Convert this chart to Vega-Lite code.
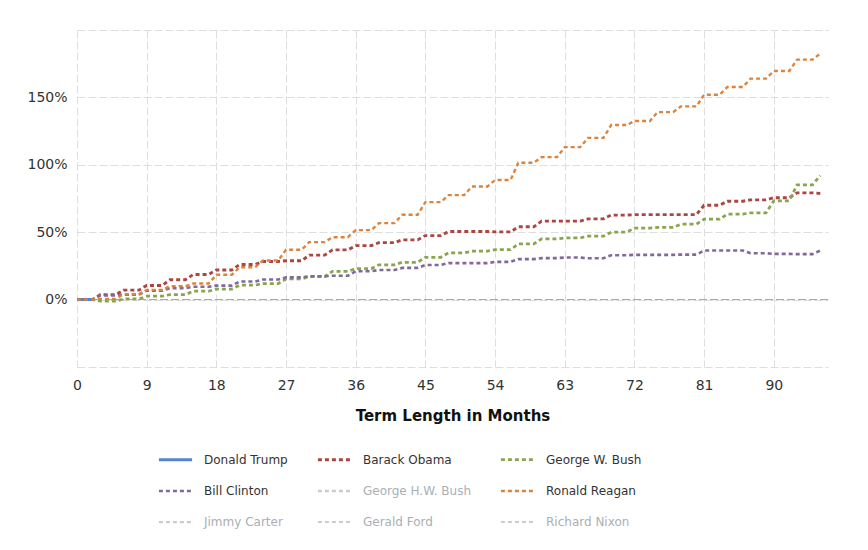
{
  "$schema": "https://vega.github.io/schema/vega-lite/v6.json",
  "width": 751,
  "height": 337,
  "autosize": "none",
  "padding": {"left": 77, "top": 30, "right": 40, "bottom": 183},
  "config": {
    "view": {"stroke": null},
    "font": "DejaVu Sans",
    "axis": {
      "grid": true,
      "gridDash": [8, 3],
      "gridColor": "#dedede",
      "gridWidth": 1,
      "domain": false,
      "ticks": false,
      "labelFontSize": 14,
      "labelColor": "#333333",
      "labelFont": "DejaVu Sans"
    },
    "legend": {
      "title": null,
      "orient": "none",
      "legendX": 80,
      "legendY": 411,
      "direction": "horizontal",
      "columns": 3,
      "symbolType": "stroke",
      "symbolSize": 1100,
      "labelFontSize": 12,
      "labelFont": "DejaVu Sans",
      "labelColor": "#333333",
      "labelOffset": 10,
      "columnPadding": 24,
      "rowPadding": 7
    }
  },
  "datasets": {
    "zero": [{"y": 0}],
    "series": [
      {"n":"Donald Trump","m":0,"v":0},{"n":"Donald Trump","m":1,"v":0},{"n":"Donald Trump","m":2,"v":0},

      {"n":"Barack Obama","m":0,"v":0},{"n":"Barack Obama","m":1,"v":0},{"n":"Barack Obama","m":2,"v":0},
      {"n":"Barack Obama","m":3,"v":3.7},{"n":"Barack Obama","m":4,"v":3.7},{"n":"Barack Obama","m":5,"v":3.7},
      {"n":"Barack Obama","m":6,"v":7.0},{"n":"Barack Obama","m":7,"v":7.0},{"n":"Barack Obama","m":8,"v":7.0},
      {"n":"Barack Obama","m":9,"v":10.5},{"n":"Barack Obama","m":10,"v":10.5},{"n":"Barack Obama","m":11,"v":10.5},
      {"n":"Barack Obama","m":12,"v":14.7},{"n":"Barack Obama","m":13,"v":14.7},{"n":"Barack Obama","m":14,"v":14.7},
      {"n":"Barack Obama","m":15,"v":18.6},{"n":"Barack Obama","m":16,"v":18.6},{"n":"Barack Obama","m":17,"v":18.6},
      {"n":"Barack Obama","m":18,"v":22.0},{"n":"Barack Obama","m":19,"v":22.0},{"n":"Barack Obama","m":20,"v":22.0},
      {"n":"Barack Obama","m":21,"v":26.0},{"n":"Barack Obama","m":22,"v":26.0},{"n":"Barack Obama","m":23,"v":26.0},
      {"n":"Barack Obama","m":24,"v":28.3},{"n":"Barack Obama","m":25,"v":28.3},{"n":"Barack Obama","m":26,"v":28.3},
      {"n":"Barack Obama","m":27,"v":28.8},{"n":"Barack Obama","m":28,"v":28.8},{"n":"Barack Obama","m":29,"v":28.8},
      {"n":"Barack Obama","m":30,"v":33.0},{"n":"Barack Obama","m":31,"v":33.0},{"n":"Barack Obama","m":32,"v":33.0},
      {"n":"Barack Obama","m":33,"v":36.9},{"n":"Barack Obama","m":34,"v":36.9},{"n":"Barack Obama","m":35,"v":36.9},
      {"n":"Barack Obama","m":36,"v":40.0},{"n":"Barack Obama","m":37,"v":40.0},{"n":"Barack Obama","m":38,"v":40.0},
      {"n":"Barack Obama","m":39,"v":42.3},{"n":"Barack Obama","m":40,"v":42.3},{"n":"Barack Obama","m":41,"v":42.3},
      {"n":"Barack Obama","m":42,"v":44.3},{"n":"Barack Obama","m":43,"v":44.3},{"n":"Barack Obama","m":44,"v":44.3},
      {"n":"Barack Obama","m":45,"v":47.5},{"n":"Barack Obama","m":46,"v":47.5},{"n":"Barack Obama","m":47,"v":47.5},
      {"n":"Barack Obama","m":48,"v":50.5},{"n":"Barack Obama","m":49,"v":50.5},{"n":"Barack Obama","m":50,"v":50.5},
      {"n":"Barack Obama","m":51,"v":50.5},{"n":"Barack Obama","m":52,"v":50.5},{"n":"Barack Obama","m":53,"v":50.5},
      {"n":"Barack Obama","m":54,"v":50.2},{"n":"Barack Obama","m":55,"v":50.2},{"n":"Barack Obama","m":56,"v":50.2},
      {"n":"Barack Obama","m":57,"v":54.0},{"n":"Barack Obama","m":58,"v":54.0},{"n":"Barack Obama","m":59,"v":54.0},
      {"n":"Barack Obama","m":60,"v":58.2},{"n":"Barack Obama","m":61,"v":58.2},{"n":"Barack Obama","m":62,"v":58.2},
      {"n":"Barack Obama","m":63,"v":58.2},{"n":"Barack Obama","m":64,"v":58.2},{"n":"Barack Obama","m":65,"v":58.2},
      {"n":"Barack Obama","m":66,"v":59.9},{"n":"Barack Obama","m":67,"v":59.9},{"n":"Barack Obama","m":68,"v":59.9},
      {"n":"Barack Obama","m":69,"v":62.7},{"n":"Barack Obama","m":70,"v":62.7},{"n":"Barack Obama","m":71,"v":62.7},
      {"n":"Barack Obama","m":72,"v":63.0},{"n":"Barack Obama","m":73,"v":63.0},{"n":"Barack Obama","m":74,"v":63.0},
      {"n":"Barack Obama","m":75,"v":63.0},{"n":"Barack Obama","m":76,"v":63.0},{"n":"Barack Obama","m":77,"v":63.0},
      {"n":"Barack Obama","m":78,"v":63.0},{"n":"Barack Obama","m":79,"v":63.0},{"n":"Barack Obama","m":80,"v":63.0},
      {"n":"Barack Obama","m":81,"v":70.0},{"n":"Barack Obama","m":82,"v":70.0},{"n":"Barack Obama","m":83,"v":70.0},
      {"n":"Barack Obama","m":84,"v":73.0},{"n":"Barack Obama","m":85,"v":73.0},{"n":"Barack Obama","m":86,"v":73.0},
      {"n":"Barack Obama","m":87,"v":74.0},{"n":"Barack Obama","m":88,"v":74.0},{"n":"Barack Obama","m":89,"v":74.0},
      {"n":"Barack Obama","m":90,"v":75.6},{"n":"Barack Obama","m":91,"v":75.6},{"n":"Barack Obama","m":92,"v":75.6},
      {"n":"Barack Obama","m":93,"v":79.2},{"n":"Barack Obama","m":94,"v":79.2},{"n":"Barack Obama","m":95,"v":79.2},
      {"n":"Barack Obama","m":96,"v":78.7},

      {"n":"George W. Bush","m":0,"v":0},{"n":"George W. Bush","m":1,"v":0},{"n":"George W. Bush","m":2,"v":0},
      {"n":"George W. Bush","m":3,"v":-1.2},{"n":"George W. Bush","m":4,"v":-1.2},{"n":"George W. Bush","m":5,"v":-1.2},
      {"n":"George W. Bush","m":6,"v":0.5},{"n":"George W. Bush","m":7,"v":0.5},{"n":"George W. Bush","m":8,"v":0.5},
      {"n":"George W. Bush","m":9,"v":2.5},{"n":"George W. Bush","m":10,"v":2.5},{"n":"George W. Bush","m":11,"v":2.5},
      {"n":"George W. Bush","m":12,"v":3.7},{"n":"George W. Bush","m":13,"v":3.7},{"n":"George W. Bush","m":14,"v":3.7},
      {"n":"George W. Bush","m":15,"v":6.2},{"n":"George W. Bush","m":16,"v":6.2},{"n":"George W. Bush","m":17,"v":6.2},
      {"n":"George W. Bush","m":18,"v":7.8},{"n":"George W. Bush","m":19,"v":7.8},{"n":"George W. Bush","m":20,"v":7.8},
      {"n":"George W. Bush","m":21,"v":10.7},{"n":"George W. Bush","m":22,"v":10.7},{"n":"George W. Bush","m":23,"v":10.7},
      {"n":"George W. Bush","m":24,"v":11.9},{"n":"George W. Bush","m":25,"v":11.9},{"n":"George W. Bush","m":26,"v":11.9},
      {"n":"George W. Bush","m":27,"v":15.3},{"n":"George W. Bush","m":28,"v":15.3},{"n":"George W. Bush","m":29,"v":15.3},
      {"n":"George W. Bush","m":30,"v":17.1},{"n":"George W. Bush","m":31,"v":17.1},{"n":"George W. Bush","m":32,"v":17.1},
      {"n":"George W. Bush","m":33,"v":21.0},{"n":"George W. Bush","m":34,"v":21.0},{"n":"George W. Bush","m":35,"v":21.0},
      {"n":"George W. Bush","m":36,"v":23.0},{"n":"George W. Bush","m":37,"v":23.0},{"n":"George W. Bush","m":38,"v":23.0},
      {"n":"George W. Bush","m":39,"v":25.8},{"n":"George W. Bush","m":40,"v":25.8},{"n":"George W. Bush","m":41,"v":25.8},
      {"n":"George W. Bush","m":42,"v":27.7},{"n":"George W. Bush","m":43,"v":27.7},{"n":"George W. Bush","m":44,"v":27.7},
      {"n":"George W. Bush","m":45,"v":31.4},{"n":"George W. Bush","m":46,"v":31.4},{"n":"George W. Bush","m":47,"v":31.4},
      {"n":"George W. Bush","m":48,"v":34.7},{"n":"George W. Bush","m":49,"v":34.7},{"n":"George W. Bush","m":50,"v":34.7},
      {"n":"George W. Bush","m":51,"v":35.9},{"n":"George W. Bush","m":52,"v":35.9},{"n":"George W. Bush","m":53,"v":35.9},
      {"n":"George W. Bush","m":54,"v":37.0},{"n":"George W. Bush","m":55,"v":37.0},{"n":"George W. Bush","m":56,"v":37.0},
      {"n":"George W. Bush","m":57,"v":41.3},{"n":"George W. Bush","m":58,"v":41.3},{"n":"George W. Bush","m":59,"v":41.3},
      {"n":"George W. Bush","m":60,"v":45.0},{"n":"George W. Bush","m":61,"v":45.0},{"n":"George W. Bush","m":62,"v":45.0},
      {"n":"George W. Bush","m":63,"v":45.8},{"n":"George W. Bush","m":64,"v":45.8},{"n":"George W. Bush","m":65,"v":45.8},
      {"n":"George W. Bush","m":66,"v":47.0},{"n":"George W. Bush","m":67,"v":47.0},{"n":"George W. Bush","m":68,"v":47.0},
      {"n":"George W. Bush","m":69,"v":50.0},{"n":"George W. Bush","m":70,"v":50.0},{"n":"George W. Bush","m":71,"v":50.0},
      {"n":"George W. Bush","m":72,"v":53.0},{"n":"George W. Bush","m":73,"v":53.0},{"n":"George W. Bush","m":74,"v":53.0},
      {"n":"George W. Bush","m":75,"v":53.5},{"n":"George W. Bush","m":76,"v":53.5},{"n":"George W. Bush","m":77,"v":53.5},
      {"n":"George W. Bush","m":78,"v":55.9},{"n":"George W. Bush","m":79,"v":55.9},{"n":"George W. Bush","m":80,"v":55.9},
      {"n":"George W. Bush","m":81,"v":59.7},{"n":"George W. Bush","m":82,"v":59.7},{"n":"George W. Bush","m":83,"v":59.7},
      {"n":"George W. Bush","m":84,"v":63.4},{"n":"George W. Bush","m":85,"v":63.4},{"n":"George W. Bush","m":86,"v":63.4},
      {"n":"George W. Bush","m":87,"v":64.4},{"n":"George W. Bush","m":88,"v":64.4},{"n":"George W. Bush","m":89,"v":64.4},
      {"n":"George W. Bush","m":90,"v":73.3},{"n":"George W. Bush","m":91,"v":73.3},{"n":"George W. Bush","m":92,"v":73.3},
      {"n":"George W. Bush","m":93,"v":85.1},{"n":"George W. Bush","m":94,"v":85.1},{"n":"George W. Bush","m":95,"v":85.1},
      {"n":"George W. Bush","m":96,"v":92.0},

      {"n":"Bill Clinton","m":0,"v":0},{"n":"Bill Clinton","m":1,"v":0},{"n":"Bill Clinton","m":2,"v":0},
      {"n":"Bill Clinton","m":3,"v":3.0},{"n":"Bill Clinton","m":4,"v":3.0},{"n":"Bill Clinton","m":5,"v":3.0},
      {"n":"Bill Clinton","m":6,"v":3.7},{"n":"Bill Clinton","m":7,"v":3.7},{"n":"Bill Clinton","m":8,"v":3.7},
      {"n":"Bill Clinton","m":9,"v":6.7},{"n":"Bill Clinton","m":10,"v":6.7},{"n":"Bill Clinton","m":11,"v":6.7},
      {"n":"Bill Clinton","m":12,"v":8.5},{"n":"Bill Clinton","m":13,"v":8.5},{"n":"Bill Clinton","m":14,"v":8.5},
      {"n":"Bill Clinton","m":15,"v":9.5},{"n":"Bill Clinton","m":16,"v":9.5},{"n":"Bill Clinton","m":17,"v":9.5},
      {"n":"Bill Clinton","m":18,"v":10.4},{"n":"Bill Clinton","m":19,"v":10.4},{"n":"Bill Clinton","m":20,"v":10.4},
      {"n":"Bill Clinton","m":21,"v":13.4},{"n":"Bill Clinton","m":22,"v":13.4},{"n":"Bill Clinton","m":23,"v":13.4},
      {"n":"Bill Clinton","m":24,"v":14.9},{"n":"Bill Clinton","m":25,"v":14.9},{"n":"Bill Clinton","m":26,"v":14.9},
      {"n":"Bill Clinton","m":27,"v":16.5},{"n":"Bill Clinton","m":28,"v":16.5},{"n":"Bill Clinton","m":29,"v":16.5},
      {"n":"Bill Clinton","m":30,"v":17.3},{"n":"Bill Clinton","m":31,"v":17.3},{"n":"Bill Clinton","m":32,"v":17.3},
      {"n":"Bill Clinton","m":33,"v":17.7},{"n":"Bill Clinton","m":34,"v":17.7},{"n":"Bill Clinton","m":35,"v":17.7},
      {"n":"Bill Clinton","m":36,"v":21.0},{"n":"Bill Clinton","m":37,"v":21.0},{"n":"Bill Clinton","m":38,"v":21.0},
      {"n":"Bill Clinton","m":39,"v":22.0},{"n":"Bill Clinton","m":40,"v":22.0},{"n":"Bill Clinton","m":41,"v":22.0},
      {"n":"Bill Clinton","m":42,"v":23.5},{"n":"Bill Clinton","m":43,"v":23.5},{"n":"Bill Clinton","m":44,"v":23.5},
      {"n":"Bill Clinton","m":45,"v":25.7},{"n":"Bill Clinton","m":46,"v":25.7},{"n":"Bill Clinton","m":47,"v":25.7},
      {"n":"Bill Clinton","m":48,"v":27.1},{"n":"Bill Clinton","m":49,"v":27.1},{"n":"Bill Clinton","m":50,"v":27.1},
      {"n":"Bill Clinton","m":51,"v":27.1},{"n":"Bill Clinton","m":52,"v":27.1},{"n":"Bill Clinton","m":53,"v":27.1},
      {"n":"Bill Clinton","m":54,"v":28.0},{"n":"Bill Clinton","m":55,"v":28.0},{"n":"Bill Clinton","m":56,"v":28.0},
      {"n":"Bill Clinton","m":57,"v":30.0},{"n":"Bill Clinton","m":58,"v":30.0},{"n":"Bill Clinton","m":59,"v":30.0},
      {"n":"Bill Clinton","m":60,"v":30.8},{"n":"Bill Clinton","m":61,"v":30.8},{"n":"Bill Clinton","m":62,"v":30.8},
      {"n":"Bill Clinton","m":63,"v":31.2},{"n":"Bill Clinton","m":64,"v":31.2},{"n":"Bill Clinton","m":65,"v":31.2},
      {"n":"Bill Clinton","m":66,"v":30.7},{"n":"Bill Clinton","m":67,"v":30.7},{"n":"Bill Clinton","m":68,"v":30.7},
      {"n":"Bill Clinton","m":69,"v":32.9},{"n":"Bill Clinton","m":70,"v":32.9},{"n":"Bill Clinton","m":71,"v":32.9},
      {"n":"Bill Clinton","m":72,"v":33.2},{"n":"Bill Clinton","m":73,"v":33.2},{"n":"Bill Clinton","m":74,"v":33.2},
      {"n":"Bill Clinton","m":75,"v":33.2},{"n":"Bill Clinton","m":76,"v":33.2},{"n":"Bill Clinton","m":77,"v":33.2},
      {"n":"Bill Clinton","m":78,"v":33.4},{"n":"Bill Clinton","m":79,"v":33.4},{"n":"Bill Clinton","m":80,"v":33.4},
      {"n":"Bill Clinton","m":81,"v":36.4},{"n":"Bill Clinton","m":82,"v":36.4},{"n":"Bill Clinton","m":83,"v":36.4},
      {"n":"Bill Clinton","m":84,"v":36.4},{"n":"Bill Clinton","m":85,"v":36.4},{"n":"Bill Clinton","m":86,"v":36.4},
      {"n":"Bill Clinton","m":87,"v":34.4},{"n":"Bill Clinton","m":88,"v":34.4},{"n":"Bill Clinton","m":89,"v":34.4},
      {"n":"Bill Clinton","m":90,"v":33.9},{"n":"Bill Clinton","m":91,"v":33.9},{"n":"Bill Clinton","m":92,"v":33.9},
      {"n":"Bill Clinton","m":93,"v":33.7},{"n":"Bill Clinton","m":94,"v":33.7},{"n":"Bill Clinton","m":95,"v":33.7},
      {"n":"Bill Clinton","m":96,"v":36.4},

      {"n":"Ronald Reagan","m":0,"v":0},{"n":"Ronald Reagan","m":1,"v":0},{"n":"Ronald Reagan","m":2,"v":0},
      {"n":"Ronald Reagan","m":3,"v":0.5},{"n":"Ronald Reagan","m":4,"v":0.5},{"n":"Ronald Reagan","m":5,"v":0.5},
      {"n":"Ronald Reagan","m":6,"v":4.0},{"n":"Ronald Reagan","m":7,"v":4.0},{"n":"Ronald Reagan","m":8,"v":4.0},
      {"n":"Ronald Reagan","m":9,"v":7.2},{"n":"Ronald Reagan","m":10,"v":7.2},{"n":"Ronald Reagan","m":11,"v":7.2},
      {"n":"Ronald Reagan","m":12,"v":10.0},{"n":"Ronald Reagan","m":13,"v":10.0},{"n":"Ronald Reagan","m":14,"v":10.0},
      {"n":"Ronald Reagan","m":15,"v":11.9},{"n":"Ronald Reagan","m":16,"v":11.9},{"n":"Ronald Reagan","m":17,"v":11.9},
      {"n":"Ronald Reagan","m":18,"v":18.4},{"n":"Ronald Reagan","m":19,"v":18.4},{"n":"Ronald Reagan","m":20,"v":18.4},
      {"n":"Ronald Reagan","m":21,"v":24.0},{"n":"Ronald Reagan","m":22,"v":24.0},{"n":"Ronald Reagan","m":23,"v":24.0},
      {"n":"Ronald Reagan","m":24,"v":29.0},{"n":"Ronald Reagan","m":25,"v":29.0},{"n":"Ronald Reagan","m":26,"v":29.0},
      {"n":"Ronald Reagan","m":27,"v":37.0},{"n":"Ronald Reagan","m":28,"v":37.0},{"n":"Ronald Reagan","m":29,"v":37.0},
      {"n":"Ronald Reagan","m":30,"v":42.6},{"n":"Ronald Reagan","m":31,"v":42.6},{"n":"Ronald Reagan","m":32,"v":42.6},
      {"n":"Ronald Reagan","m":33,"v":46.3},{"n":"Ronald Reagan","m":34,"v":46.3},{"n":"Ronald Reagan","m":35,"v":46.3},
      {"n":"Ronald Reagan","m":36,"v":51.5},{"n":"Ronald Reagan","m":37,"v":51.5},{"n":"Ronald Reagan","m":38,"v":51.5},
      {"n":"Ronald Reagan","m":39,"v":56.7},{"n":"Ronald Reagan","m":40,"v":56.7},{"n":"Ronald Reagan","m":41,"v":56.7},
      {"n":"Ronald Reagan","m":42,"v":62.9},{"n":"Ronald Reagan","m":43,"v":62.9},{"n":"Ronald Reagan","m":44,"v":62.9},
      {"n":"Ronald Reagan","m":45,"v":72.3},{"n":"Ronald Reagan","m":46,"v":72.3},{"n":"Ronald Reagan","m":47,"v":72.3},
      {"n":"Ronald Reagan","m":48,"v":77.5},{"n":"Ronald Reagan","m":49,"v":77.5},{"n":"Ronald Reagan","m":50,"v":77.5},
      {"n":"Ronald Reagan","m":51,"v":83.9},{"n":"Ronald Reagan","m":52,"v":83.9},{"n":"Ronald Reagan","m":53,"v":83.9},
      {"n":"Ronald Reagan","m":54,"v":88.7},{"n":"Ronald Reagan","m":55,"v":88.7},{"n":"Ronald Reagan","m":56,"v":88.7},
      {"n":"Ronald Reagan","m":57,"v":101.5},{"n":"Ronald Reagan","m":58,"v":101.5},{"n":"Ronald Reagan","m":59,"v":101.5},
      {"n":"Ronald Reagan","m":60,"v":105.7},{"n":"Ronald Reagan","m":61,"v":105.7},{"n":"Ronald Reagan","m":62,"v":105.7},
      {"n":"Ronald Reagan","m":63,"v":113.1},{"n":"Ronald Reagan","m":64,"v":113.1},{"n":"Ronald Reagan","m":65,"v":113.1},
      {"n":"Ronald Reagan","m":66,"v":120.0},{"n":"Ronald Reagan","m":67,"v":120.0},{"n":"Ronald Reagan","m":68,"v":120.0},
      {"n":"Ronald Reagan","m":69,"v":129.5},{"n":"Ronald Reagan","m":70,"v":129.5},{"n":"Ronald Reagan","m":71,"v":129.5},
      {"n":"Ronald Reagan","m":72,"v":132.5},{"n":"Ronald Reagan","m":73,"v":132.5},{"n":"Ronald Reagan","m":74,"v":132.5},
      {"n":"Ronald Reagan","m":75,"v":139.1},{"n":"Ronald Reagan","m":76,"v":139.1},{"n":"Ronald Reagan","m":77,"v":139.1},
      {"n":"Ronald Reagan","m":78,"v":143.3},{"n":"Ronald Reagan","m":79,"v":143.3},{"n":"Ronald Reagan","m":80,"v":143.3},
      {"n":"Ronald Reagan","m":81,"v":152.0},{"n":"Ronald Reagan","m":82,"v":152.0},{"n":"Ronald Reagan","m":83,"v":152.0},
      {"n":"Ronald Reagan","m":84,"v":157.7},{"n":"Ronald Reagan","m":85,"v":157.7},{"n":"Ronald Reagan","m":86,"v":157.7},
      {"n":"Ronald Reagan","m":87,"v":163.9},{"n":"Ronald Reagan","m":88,"v":163.9},{"n":"Ronald Reagan","m":89,"v":163.9},
      {"n":"Ronald Reagan","m":90,"v":169.6},{"n":"Ronald Reagan","m":91,"v":169.6},{"n":"Ronald Reagan","m":92,"v":169.6},
      {"n":"Ronald Reagan","m":93,"v":178.0},{"n":"Ronald Reagan","m":94,"v":178.0},{"n":"Ronald Reagan","m":95,"v":178.0},
      {"n":"Ronald Reagan","m":96,"v":182.5}
    ]
  },
  "layer": [
    {
      "data": {"name": "zero"},
      "mark": {"type": "rule", "color": "#a0a0a0", "strokeWidth": 1, "strokeDash": [8, 3]},
      "encoding": {
        "y": {"field": "y", "type": "quantitative", "scale": {"domain": [-50, 200], "nice": false}}
      }
    },
    {
      "data": {"name": "series"},
      "mark": {"type": "line", "interpolate": "linear"},
      "encoding": {
        "x": {
          "field": "m", "type": "quantitative",
          "scale": {"domain": [0, 97], "nice": false, "zero": true},
          "axis": {
            "title": "Term Length in Months",
            "values": [0, 9, 18, 27, 36, 45, 54, 63, 72, 81, 90],
            "labelPadding": 11,
            "labelFlush": false,
            "titleFontSize": 15,
            "titleFontWeight": "bold",
            "titleColor": "#111111",
            "titleFont": "DejaVu Sans",
            "titlePadding": 16
          }
        },
        "y": {
          "field": "v", "type": "quantitative",
          "scale": {"domain": [-50, 200], "nice": false},
          "axis": {
            "title": null,
            "values": [-50, 0, 50, 100, 150, 200],
            "labelExpr": "datum.value < 0 || datum.value > 175 ? '' : datum.value + '%'",
            "labelPadding": 10
          }
        },
        "color": {
          "field": "n", "type": "nominal",
          "scale": {
            "domain": ["Donald Trump", "Barack Obama", "George W. Bush", "Bill Clinton", "George H.W. Bush", "Ronald Reagan", "Jimmy Carter", "Gerald Ford", "Richard Nixon"],
            "range": ["#5087d3", "#aa4643", "#89a54e", "#80699b", "#cccccc", "#db843d", "#cccccc", "#cccccc", "#cccccc"]
          },
          "legend": {
            "encode": {
              "labels": {
                "update": {
                  "fill": {"signal": "indexof(['George H.W. Bush','Jimmy Carter','Gerald Ford','Richard Nixon'], datum.value) >= 0 ? '#a9afb5' : '#333333'"}
                }
              }
            }
          }
        },
        "strokeDash": {
          "field": "n", "type": "nominal",
          "scale": {
            "domain": ["Donald Trump", "Barack Obama", "George W. Bush", "Bill Clinton", "George H.W. Bush", "Ronald Reagan", "Jimmy Carter", "Gerald Ford", "Richard Nixon"],
            "range": [[1, 0], [4, 3], [4, 3], [4, 3], [4, 3], [4, 3], [4, 3], [4, 3], [4, 3]]
          },
          "legend": {
            "encode": {
              "labels": {
                "update": {
                  "fill": {"signal": "indexof(['George H.W. Bush','Jimmy Carter','Gerald Ford','Richard Nixon'], datum.value) >= 0 ? '#a9afb5' : '#333333'"}
                }
              }
            }
          }
        },
        "strokeWidth": {
          "field": "n", "type": "nominal",
          "scale": {
            "domain": ["Donald Trump", "Barack Obama", "George W. Bush", "Bill Clinton", "George H.W. Bush", "Ronald Reagan", "Jimmy Carter", "Gerald Ford", "Richard Nixon"],
            "range": [3, 2, 2, 2, 2, 2, 2, 2, 2]
          },
          "legend": {
            "encode": {
              "labels": {
                "update": {
                  "fill": {"signal": "indexof(['George H.W. Bush','Jimmy Carter','Gerald Ford','Richard Nixon'], datum.value) >= 0 ? '#a9afb5' : '#333333'"}
                }
              }
            }
          }
        }
      }
    }
  ]
}
